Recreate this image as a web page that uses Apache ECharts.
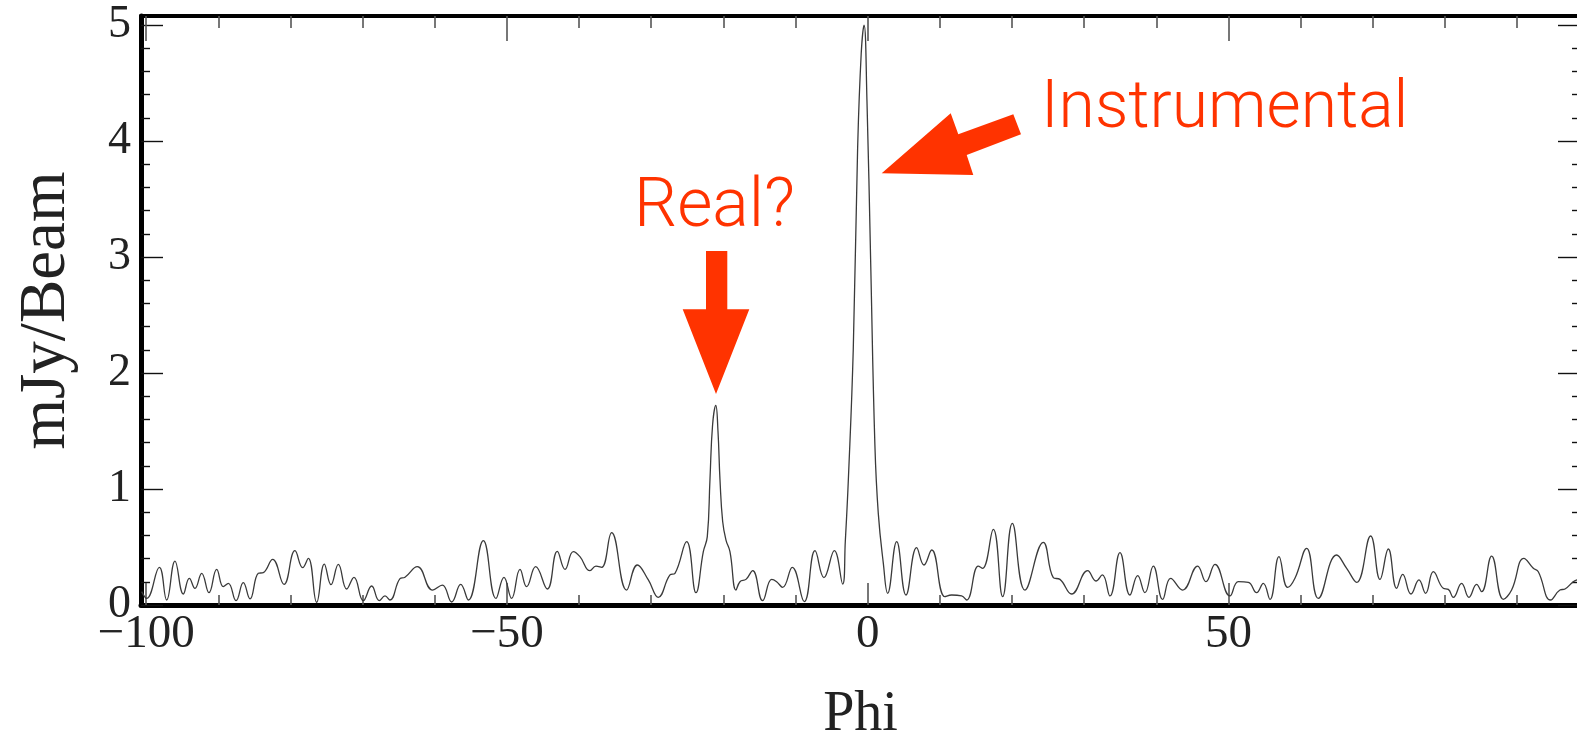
<!DOCTYPE html>
<html>
<head>
<meta charset="utf-8">
<script src="https://cdn.jsdelivr.net/npm/echarts@6/dist/echarts.min.js"></script>
<style>
html,body{margin:0;padding:0;background:#fff;}
#chart{width:1577px;height:730px;}
</style>
</head>
<body>
<div id="chart"></div>
<script>
// ---- data ----
const phi = [
-100.63,-99.94,-98.18,-97.16,-96.01,-94.85,-94.02,-93.24,-92.31,-91.30,
-90.23,-89.31,-88.62,-87.55,-86.54,-85.61,-84.46,-83.77,-82.47,-80.90,
-79.38,-78.31,-77.53,-76.37,-75.31,-74.39,-73.37,-72.21,-71.20,-69.91,
-68.75,-67.69,-66.90,-66.21,-64.82,-64.13,-62.42,-60.30,-58.96,-57.66,
-56.41,-55.35,-53.27,-51.52,-50.41,-49.35,-48.19,-47.27,-46.02,-44.40,
-43.02,-41.95,-40.80,-39.88,-38.49,-37.66,-36.87,-35.49,-33.41,-31.93,
-30.40,-29.02,-27.40,-26.71,-25.09,-23.80,-22.78,-22.23,-21.86,-21.50,
-21.05,-20.75,-20.47,-20.10,-19.64,-19.09,-18.25,-17.70,-16.87,-15.94,
-14.56,-13.31,-12.62,-11.79,-10.45,-8.78,-7.30,-6.06,-4.62,-3.47,
-3.10,-2.68,-2.00,-1.40,-0.90,-0.50,-0.10,0.40,1.00,1.47,
2.17,2.77,4.02,5.31,6.79,7.80,8.87,10.71,11.64,13.02,
13.72,15.33,15.93,17.41,18.71,20.05,21.80,24.34,25.73,26.65,
28.27,30.49,31.64,32.52,33.58,34.97,36.35,37.42,38.43,39.59,
40.88,41.99,43.65,45.73,46.89,48.14,50.21,51.37,52.76,53.91,
54.83,55.76,57.01,58.21,59.22,60.84,62.46,65.00,66.39,67.77,
69.71,71.01,72.16,73.32,74.15,75.30,76.41,77.33,78.40,79.78,
80.48,81.17,82.32,83.34,84.40,85.10,86.48,88.10,89.25,90.96,
92.26,92.95,94.66,95.95,96.65,97.80,98.31,98.73
];
const mjyPerBeam = [
0.115,0.057,0.325,0.043,0.379,0.095,0.230,0.144,0.273,0.106,
0.307,0.158,0.187,0.037,0.193,0.052,0.273,0.279,0.394,0.178,
0.468,0.322,0.402,0.023,0.353,0.175,0.351,0.138,0.239,0.037,
0.164,0.037,0.078,0.043,0.227,0.239,0.330,0.129,0.172,0.026,
0.178,0.043,0.555,0.057,0.239,0.057,0.307,0.158,0.330,0.138,
0.462,0.307,0.460,0.417,0.296,0.336,0.325,0.624,0.129,0.345,
0.216,0.066,0.259,0.273,0.546,0.106,0.460,0.589,1.08,1.55,
1.72,1.50,1.08,0.72,0.560,0.460,0.129,0.201,0.221,0.296,
0.037,0.221,0.201,0.152,0.325,0.029,0.468,0.236,0.468,0.181,
0.55,1.08,2.20,3.92,4.75,5.00,4.35,3.00,1.38,0.79,
0.359,0.101,0.546,0.086,0.494,0.345,0.474,0.072,0.086,0.078,
0.043,0.336,0.316,0.652,0.072,0.704,0.129,0.540,0.236,0.221,
0.095,0.296,0.207,0.259,0.078,0.451,0.086,0.253,0.106,0.336,
0.049,0.230,0.129,0.336,0.201,0.351,0.078,0.201,0.195,0.106,
0.187,0.049,0.417,0.152,0.230,0.489,0.057,0.431,0.316,0.195,
0.595,0.221,0.483,0.144,0.264,0.095,0.216,0.101,0.287,0.144,
0.135,0.066,0.187,0.066,0.178,0.115,0.422,0.049,0.129,0.402,
0.316,0.287,0.043,0.129,0.138,0.201,0.216,0.22
];
const xMajorTicks = [-100, -50, 0, 50];
const xMinorTicks = [-90, -80, -70, -60, -40, -30, -20, -10, 10, 20, 30, 40, 60, 70, 80, 90];
const yMajorTicks = [0, 1, 2, 3, 4, 5];
const yMinorTicks = [0.2,0.4,0.6,0.8,1.2,1.4,1.6,1.8,2.2,2.4,2.6,2.8,3.2,3.4,3.6,3.8,4.2,4.4,4.6,4.8];
const xLabel = 'Phi';
const yLabel = 'mJy/Beam';
const annotationReal = 'Real?';
const annotationInstr = 'Instrumental';

// ---- chart ----
const X_MIN = -100.72, X_MAX = 98.73, Y_MIN = 0, Y_MAX = 5.078;
const SERIF = '"Liberation Serif", "Times New Roman", serif';
const RED = '#ff3300';
const fmt = v => (v < 0 ? '\u2212' + Math.abs(v) : String(v));

function xAx(opts) {
  return Object.assign({
    type: 'value', min: X_MIN, max: X_MAX, gridIndex: 0,
    splitLine: { show: false },
    axisLabel: { show: false },
    axisLine: { show: false, onZero: false }
  }, opts);
}
function yAx(opts) {
  return Object.assign({
    type: 'value', min: Y_MIN, max: Y_MAX, gridIndex: 0,
    splitLine: { show: false },
    axisLabel: { show: false },
    axisLine: { show: false, onZero: false }
  }, opts);
}

const seriesData = phi.map((p, i) => [p, mjyPerBeam[i]]);

const chart = echarts.init(document.getElementById('chart'), null, { renderer: 'canvas' });
chart.setOption({
  animation: false,
  backgroundColor: '#ffffff',
  grid: { left: 141, top: 16, width: 1439, height: 589, containLabel: false, outerBoundsMode: 'none' },
  xAxis: [
    xAx({
      position: 'bottom',
      axisLine: { show: true, onZero: false, lineStyle: { color: '#000', width: 5 } },
      axisTick: { show: true, inside: true, length: 22, customValues: xMajorTicks, lineStyle: { color: '#555', width: 1.6 } },
      axisLabel: { show: true, customValues: xMajorTicks, formatter: fmt, fontFamily: SERIF, fontSize: 47, color: '#222', margin: 6 },
      name: xLabel, nameLocation: 'middle', nameGap: 82,
      nameTextStyle: { fontFamily: SERIF, fontSize: 56, color: '#222' }
    }),
    xAx({
      position: 'bottom',
      axisTick: { show: true, inside: true, length: 10, customValues: xMinorTicks, lineStyle: { color: '#555', width: 1.6 } }
    }),
    xAx({
      position: 'top',
      axisLine: { show: true, onZero: false, lineStyle: { color: '#000', width: 4 } },
      axisTick: { show: true, inside: true, length: 25, customValues: xMajorTicks, lineStyle: { color: '#555', width: 1.6 } }
    }),
    xAx({
      position: 'top',
      axisTick: { show: true, inside: true, length: 12, customValues: xMinorTicks, lineStyle: { color: '#555', width: 1.6 } }
    })
  ],
  yAxis: [
    yAx({
      position: 'left',
      axisLine: { show: true, onZero: false, lineStyle: { color: '#000', width: 5 } },
      axisTick: { show: true, inside: true, length: 22, customValues: yMajorTicks, lineStyle: { color: '#111', width: 1.4 } },
      axisLabel: { show: true, customValues: yMajorTicks, fontFamily: SERIF, fontSize: 46, color: '#222', margin: 10 },
      name: yLabel, nameLocation: 'middle', nameGap: 62, nameRotate: 90,
      nameTextStyle: { fontFamily: SERIF, fontSize: 65, color: '#222' }
    }),
    yAx({
      position: 'left',
      axisTick: { show: true, inside: true, length: 9, customValues: yMinorTicks, lineStyle: { color: '#111', width: 1.4 } }
    }),
    yAx({
      position: 'right',
      axisLine: { show: true, onZero: false, lineStyle: { color: '#000', width: 5 } },
      axisTick: { show: true, inside: true, length: 22, customValues: yMajorTicks, lineStyle: { color: '#111', width: 1.4 } }
    }),
    yAx({
      position: 'right',
      axisTick: { show: true, inside: true, length: 8, customValues: yMinorTicks, lineStyle: { color: '#111', width: 1.4 } }
    })
  ],
  series: [{
    type: 'line',
    xAxisIndex: 0, yAxisIndex: 0,
    data: seriesData,
    showSymbol: false,
    smooth: 0.45,
    lineStyle: { color: '#3a3a3a', width: 1.3 },
    z: 3
  }],
  graphic: [
    { type: 'polygon', z: 10,
      shape: { points: [[706,251],[727.3,251],[727.3,309.3],[749.3,309.3],[716,394],[682.7,309.3],[706,309.3]] },
      style: { fill: RED } },
    { type: 'polygon', z: 10,
      shape: { points: [[881.7,173.3],[950.7,113.3],[958.3,134.3],[1013.3,114.3],[1021,134.3],[966.7,155],[973.3,175]] },
      style: { fill: RED } },
    { type: 'text', z: 10, left: 634, top: 175,
      style: { text: annotationReal, fill: RED, font: '300 68px Roboto, "Open Sans", sans-serif' } },
    { type: 'text', z: 10, left: 1041, top: 77,
      style: { text: annotationInstr, fill: RED, font: '300 66px Roboto, "Open Sans", sans-serif' } }
  ]
});
</script>
</body>
</html>
